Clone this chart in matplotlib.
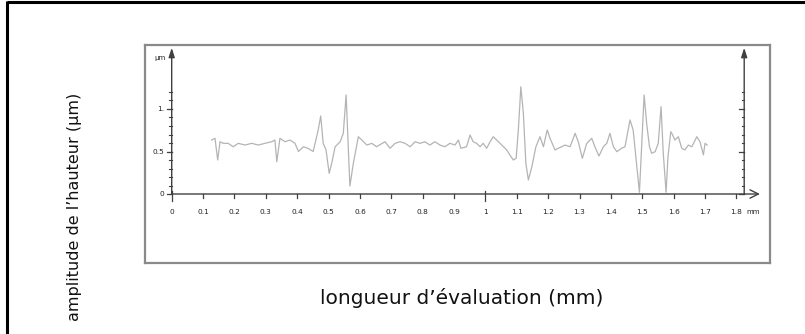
import matplotlib
matplotlib.use("Agg")
import matplotlib.pyplot as plt
import numpy as np

# ---- data (mm, µm) ----
profile_x = [0.1275, 0.138, 0.1466, 0.154, 0.1645, 0.180, 0.196, 0.212, 0.234, 0.255,
             0.276, 0.297, 0.319, 0.329, 0.335, 0.345, 0.361, 0.377,
             0.393, 0.404, 0.420, 0.435, 0.451, 0.467, 0.475, 0.483, 0.492, 0.502,
             0.510, 0.521, 0.537, 0.547, 0.556, 0.563, 0.568, 0.579, 0.595, 0.606,
             0.622, 0.638, 0.653,
             0.680, 0.696, 0.712, 0.728, 0.744, 0.760, 0.776, 0.792, 0.807, 0.823,
             0.839, 0.855, 0.871, 0.887, 0.903, 0.914, 0.922,
             0.940, 0.951, 0.961, 0.972, 0.983, 0.993, 1.004, 1.015, 1.025, 1.036,
             1.052, 1.068, 1.078, 1.089, 1.098, 1.105, 1.113, 1.121, 1.129, 1.137,
             1.148, 1.161, 1.174, 1.185, 1.197,
             1.206, 1.222, 1.232, 1.243, 1.254, 1.270, 1.286, 1.296, 1.309, 1.323,
             1.339, 1.349, 1.362, 1.376, 1.387, 1.397, 1.408, 1.419, 1.434, 1.445,
             1.461, 1.471, 1.491, 1.498, 1.506, 1.514, 1.523, 1.530, 1.541, 1.551,
             1.560, 1.567, 1.576, 1.582, 1.591, 1.597, 1.604, 1.615, 1.626, 1.636,
             1.647, 1.658, 1.674, 1.684, 1.695, 1.700, 1.707]
profile_y = [0.635, 0.655, 0.40, 0.615, 0.596, 0.596, 0.556, 0.596, 0.576, 0.596,
             0.576, 0.596, 0.615, 0.635, 0.38, 0.655, 0.615, 0.635,
             0.596, 0.50, 0.556, 0.536, 0.50, 0.753, 0.918, 0.596, 0.518, 0.243,
             0.361, 0.556, 0.615, 0.714, 1.165, 0.556, 0.094, 0.361, 0.674, 0.635,
             0.576, 0.596, 0.556,
             0.615, 0.538, 0.596, 0.615, 0.596, 0.556, 0.615, 0.596, 0.615, 0.576,
             0.615, 0.576, 0.556, 0.596, 0.576, 0.635, 0.538,
             0.556, 0.694, 0.615, 0.596, 0.556, 0.596, 0.538, 0.615, 0.674, 0.635,
             0.576, 0.518, 0.459, 0.40, 0.42, 0.753, 1.262, 0.949, 0.361, 0.165,
             0.321, 0.556, 0.674, 0.556, 0.753,
             0.655, 0.518, 0.538, 0.556, 0.576, 0.556, 0.714, 0.615, 0.42, 0.596,
             0.655, 0.556, 0.447, 0.556, 0.596, 0.714, 0.556, 0.498, 0.538, 0.556,
             0.871, 0.753, 0.02, 0.556, 1.165, 0.832, 0.556, 0.479, 0.498, 0.596,
             1.027, 0.479, 0.02, 0.439, 0.733, 0.694, 0.635, 0.674, 0.538, 0.518,
             0.576, 0.556, 0.674, 0.615, 0.46, 0.596, 0.576]

x_ticks = [0, 0.1, 0.2, 0.3, 0.4, 0.5, 0.6, 0.7, 0.8, 0.9, 1, 1.1, 1.2, 1.3, 1.4,
           1.5, 1.6, 1.7, 1.8]
x_tick_labels = ["0", "0.1", "0.2", "0.3", "0.4", "0.5", "0.6", "0.7", "0.8", "0.9",
                 "1", "1.1", "1.2", "1.3", "1.4", "1.5", "1.6", "1.7", "1.8"]
y_ticks = [0, 0.5, 1]
y_tick_labels = ["0", "0.5", "1."]
y_minor = [0.1 * i for i in range(0, 13)]

x_unit = "mm"
y_unit = "µm"
x_title = "longueur d’évaluation (mm)"
y_title = "amplitude de l’hauteur (µm)"

# ---- figure ----
W, H = 805, 334
fig = plt.figure(figsize=(W / 100, H / 100), dpi=100)

# outer black border (top / left)
border = fig.add_axes([0, 0, 1, 1])
border.set_xlim(0, W)
border.set_ylim(H, 0)
border.axis("off")
border.plot([7, W], [2, 2], color="black", lw=2.2, solid_capstyle="butt")
border.plot([7, 7], [1, H], color="black", lw=2.2, solid_capstyle="butt")

# inner boxed chart
box_l, box_r, box_t, box_b = 145, 770, 45, 263
ax = fig.add_axes([box_l / W, 1 - box_b / H, (box_r - box_l) / W, (box_b - box_t) / H])
px0, pxs = 171.7, 313.7
py0, pys = 194.0, 85.0
ax.set_xlim((box_l - px0) / pxs, (box_r - px0) / pxs)
ax.set_ylim((py0 - box_b) / pys, (py0 - box_t) / pys)
ax.set_xticks([])
ax.set_yticks([])
for s in ax.spines.values():
    s.set_color("#8a8a8a")
    s.set_linewidth(1.6)

axis_col = "#404040"
y_top = 1.72
x_end = 1.875
right_x = 1.825

# profile curve
ax.plot(profile_x, profile_y, color="#b4b4b4", lw=0.9, zorder=3)

# axes with arrows
arrow_kw = dict(arrowstyle="-|>,head_length=0.55,head_width=0.18", color=axis_col, lw=1.0,
                shrinkA=0, shrinkB=0)
ax.annotate("", xy=(x_end, 0), xytext=(0, 0), arrowprops=dict(arrowstyle="->,head_length=0.6,head_width=0.3",
            color=axis_col, lw=1.0, shrinkA=0, shrinkB=0), zorder=4)
ax.annotate("", xy=(0, y_top), xytext=(0, 0), arrowprops=arrow_kw, zorder=4)
ax.annotate("", xy=(right_x, y_top), xytext=(right_x, 0), arrowprops=arrow_kw, zorder=4)

# x ticks
dx_min = 3.5 / pys
for xv, lab in zip(x_ticks, x_tick_labels):
    if xv in (0, 1):
        ax.plot([xv, xv], [-7 / pys, 3 / pys], color=axis_col, lw=0.9, zorder=4)
    else:
        ax.plot([xv, xv], [-dx_min, 0], color=axis_col, lw=0.9, zorder=4)
    ax.text(xv, -18 / pys, lab, ha="center", va="center", fontsize=5.3, color="#222222",
            family="DejaVu Sans")
ax.text(1.8 + 17 / pxs, -18 / pys, x_unit, ha="center", va="center", fontsize=5.0,
        color="#222222")

# y ticks (left and right axes)
for yv in y_minor:
    ax.plot([-2.5 / pxs, 0], [yv, yv], color=axis_col, lw=0.8, zorder=4)
    ax.plot([right_x - 2.5 / pxs, right_x], [yv, yv], color=axis_col, lw=0.8, zorder=4)
for yv, lab in zip(y_ticks, y_tick_labels):
    ax.plot([-5 / pxs, 0], [yv, yv], color=axis_col, lw=0.9, zorder=4)
    ax.plot([right_x - 5 / pxs, right_x], [yv, yv], color=axis_col, lw=0.9, zorder=4)
    ax.text(-7 / pxs, yv, lab, ha="right", va="center", fontsize=5.3, color="#222222")
ax.text(-12 / pxs, (py0 - 58) / pys, y_unit, ha="center", va="center", fontsize=5.0,
        color="#222222")

# outer titles
fig.text(462 / W, 1 - 298 / H, x_title, ha="center", va="center", fontsize=14.5,
         color="#111111")
fig.text(74 / W, 1 - 207 / H, y_title, ha="center", va="center", rotation=90,
         fontsize=11.5, color="#111111")

fig.savefig("out.png", dpi=100)
